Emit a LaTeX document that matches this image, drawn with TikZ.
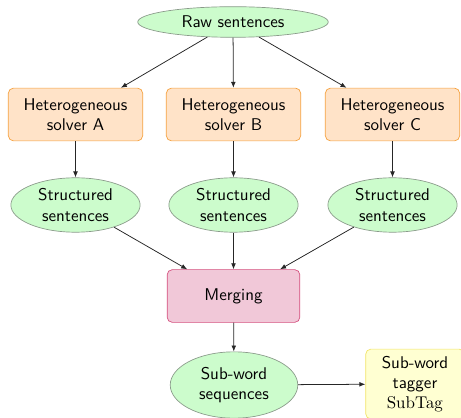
\documentclass[tikz,border=0pt]{standalone}
\usetikzlibrary{shapes.geometric,arrows.meta}
\renewcommand{\familydefault}{\sfdefault}
\definecolor{ellfill}{HTML}{CCFCCC}
\definecolor{ellline}{HTML}{8A9A8A}
\definecolor{solfill}{HTML}{FFE3C8}
\definecolor{solline}{HTML}{F5A03C}
\definecolor{mrgfill}{HTML}{F1C8D8}
\definecolor{mrgline}{HTML}{D4507E}
\definecolor{tagfill}{HTML}{FFFFD2}
\definecolor{tagline}{HTML}{F2E46A}
\begin{document}
\begin{tikzpicture}[x=0.588pt,y=-0.588pt,
  dataell/.style={ellipse,draw=ellline,fill=ellfill,inner sep=0pt,align=center},
  solverbox/.style={rectangle,rounded corners=3pt,draw=solline,fill=solfill,align=center,
    minimum width=79pt,minimum height=31pt,inner sep=0pt},
  mergebox/.style={rectangle,rounded corners=3pt,draw=mrgline,fill=mrgfill,align=center,
    minimum width=78pt,minimum height=31pt,inner sep=0pt},
  tagbox/.style={rectangle,rounded corners=3pt,draw=tagline,fill=tagfill,align=center,
    minimum width=58pt,minimum height=41pt,inner sep=0pt},
  flow/.style={draw=black!85,line width=0.45pt,-{Latex[length=3.5pt,width=2.8pt]}}]
\useasboundingbox (0,0) rectangle (461,418);

% input and the three solvers
\node[dataell,minimum width=112pt,minimum height=18pt] (raw) at (233,22) {Raw sentences};
\node[solverbox] (sa) at (75.5,114.5) {Heterogeneous\\solver A};
\node[solverbox] (sb) at (233.5,114.5) {Heterogeneous\\solver B};
\node[solverbox] (sc) at (392.5,114.5) {Heterogeneous\\solver C};

% solver outputs
\node[dataell,minimum width=76pt,minimum height=32pt] (ta) at (75.5,205) {Structured\\sentences};
\node[dataell,minimum width=76pt,minimum height=32pt] (tb) at (233.5,205) {Structured\\sentences};
\node[dataell,minimum width=76pt,minimum height=32pt] (tc) at (392.5,205) {Structured\\sentences};

% merging and tagging
\node[mergebox] (merge) at (233.5,296) {Merging};
\node[dataell,minimum width=75pt,minimum height=39pt] (sub) at (234,385) {Sub-word\\sequences};
\node[tagbox] (tag) at (415,384) {Sub-word\\tagger\\$\mathrm{SubTag}$};

\draw[flow] (raw) -- (sa);
\draw[flow] (raw) -- (sb);
\draw[flow] (raw) -- (sc);
\draw[flow] (sa) -- (ta);
\draw[flow] (sb) -- (tb);
\draw[flow] (sc) -- (tc);
\draw[flow] (ta) -- (merge);
\draw[flow] (tb) -- (merge);
\draw[flow] (tc) -- (merge);
\draw[flow] (merge) -- (sub);
\draw[flow] (sub) -- (tag);
\end{tikzpicture}
\end{document}
